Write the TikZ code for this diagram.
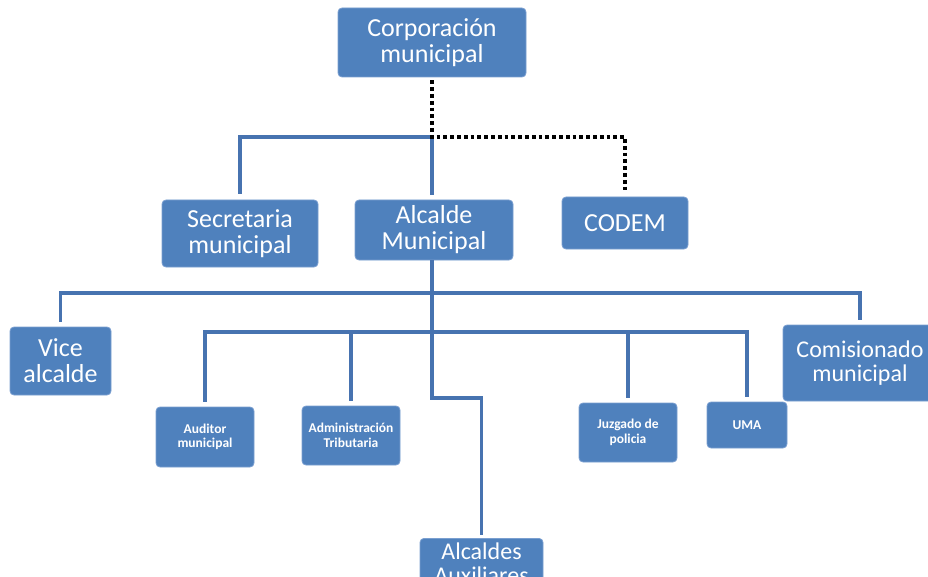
\documentclass[tikz,border=0pt]{standalone}
\usepackage{fontspec}
\setmainfont{Carlito}
\usetikzlibrary{positioning}
\definecolor{boxblue}{HTML}{4F81BD}
\definecolor{boxedge}{HTML}{7A9FD0}
\definecolor{linkblue}{HTML}{4773B0}

\begin{document}
\begin{tikzpicture}[x=1pt,y=-1pt, every node/.style={draw=boxedge,fill=boxblue,line width=0.8pt,rounded corners=4pt,text=white,align=center,inner sep=0pt},
    big/.style={font=\fontsize{26}{26}\selectfont},
    mid/.style={font=\fontsize{24}{24}\selectfont},
    small/.style={font=\bfseries\fontsize{13.5}{14.5}\selectfont},
    link/.style={draw=linkblue,line width=3.5pt},
    dots/.style={draw=black,line width=3.8pt,dash pattern=on 3.8pt off 3pt}]
    \useasboundingbox (0,0) rectangle (928,577);
    \node (corp) [big, minimum width=188, minimum height=69] at (432,42.5) {Corporación\\municipal};
    \node (secr) [big, minimum width=156, minimum height=67] at (240,233.5) {Secretaria\\municipal};
    \node (alc)  [big, minimum width=158, minimum height=60] at (434,230) {Alcalde\\Municipal};
    \node (codem)[big, minimum width=126, minimum height=52] at (625,223) {CODEM};
    \node (vice) [big, minimum width=101, minimum height=68] at (60.5,361) {Vice\\alcalde};
    \node (comi) [mid, minimum width=154, minimum height=76] at (860,363) {Comisionado\\municipal};
    \node (audi) [small, minimum width=98, minimum height=60] at (205,437) {Auditor\\municipal};
    \node (admi) [small, minimum width=98, minimum height=59] at (351,435.5) {Administración\\Tributaria};
    \node (juzg) [small, minimum width=98, minimum height=59] at (628,432.5) {Juzgado de\\policia};
    \node (uma)  [small, minimum width=80, minimum height=46] at (747,425) {UMA};
    \node (auxi) [mid, minimum width=123, minimum height=50, anchor=north] at (481.5,538) {Alcaldes\\Auxiliares};
    \coordinate (ja) at (432,137); \coordinate (jb) at (432,293);
    \coordinate (jc) at (432,332); \coordinate (jd) at (432,398);
    % lines
    \draw[link,shorten <=6pt] (secr.north) |- (ja);
    \draw[link,shorten >=5pt] (ja) -- (ja |- alc.north);
    \draw[dots,shorten <=3pt,shorten >=5pt] (corp.south) -- (ja) -| (codem.north);
    \draw[link] (ja |- alc.south) -- (jb);
    \draw[link,shorten <=5pt,shorten >=5pt] (vice.north) |- (jb) -| (comi.north);
    \draw[link] (jb) -- (jc);
    \draw[link,shorten <=5pt,shorten >=5pt] (audi.north) |- (jc) -| (uma.north);
    \draw[link,shorten <=5pt] (admi.north) -- (admi.north |- jc);
    \draw[link,shorten <=5pt] (juzg.north) -- (juzg.north |- jc);
    \draw[link,shorten >=3pt] (jc) -- (jd) -| (auxi.north);
  \end{tikzpicture}
\end{document}
